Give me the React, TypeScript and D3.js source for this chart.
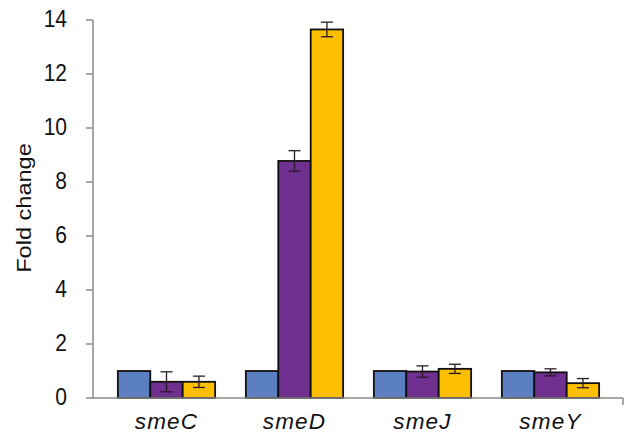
import * as d3 from "d3";

const categories = ["smeC", "smeD", "smeJ", "smeY"];
const seriesKeys = ["control", "treatA", "treatB"];
const controlValues = [1, 1, 1, 1];
const treatAValues = [0.6, 8.78, 0.98, 0.95];
const treatAErrors = [0.37, 0.38, 0.21, 0.13];
const treatBValues = [0.6, 13.65, 1.08, 0.55];
const treatBErrors = [0.21, 0.27, 0.17, 0.17];
const yTicks = [0, 2, 4, 6, 8, 10, 12, 14];

const COLORS: Record<string, string> = {
  control: "#5b7fc1",
  treatA: "#70308f",
  treatB: "#fbbf00",
};

const W = 625;
const H = 435;
const AXIS_X = 93;
const AXIS_RIGHT = 623;
const AXIS_COLOR = "#8a8a8a";
const FONT = "Arial, 'Liberation Sans', sans-serif";

interface Datum {
  category: string;
  key: string;
  value: number;
  error: number;
}

const data: Datum[] = categories.flatMap((category, i) => [
  { category, key: "control", value: controlValues[i], error: 0 },
  { category, key: "treatA", value: treatAValues[i], error: treatAErrors[i] },
  { category, key: "treatB", value: treatBValues[i], error: treatBErrors[i] },
]);

export default function App() {
  const y = d3.scaleLinear().domain([0, 14]).range([398, 20]);
  const x0 = d3
    .scaleBand<string>()
    .domain(categories)
    .range([102.5, 614.5])
    .paddingInner(0.24)
    .paddingOuter(0.12);
  const x1 = d3
    .scaleBand<string>()
    .domain(seriesKeys)
    .range([0, x0.bandwidth()]);

  return (
    <svg
      width={W}
      height={H}
      style={{ position: "absolute", left: 0, top: 0, background: "#fff" }}
      fontFamily={FONT}
    >
      {/* y axis */}
      <line x1={AXIS_X} x2={AXIS_X} y1={y(14)} y2={y(0)} stroke={AXIS_COLOR} strokeWidth={1.5} />
      {yTicks.map((t) => (
        <g key={t} transform={`translate(0,${y(t)})`}>
          <line x1={AXIS_X - 7} x2={AXIS_X} stroke={AXIS_COLOR} strokeWidth={1.5} />
          <text
            transform="translate(67,-1) scale(1,1.15)"
            textAnchor="end"
            dominantBaseline="central"
            fontSize={21}
            fill="#111"
          >
            {t}
          </text>
        </g>
      ))}
      <text
        transform={`translate(31,208) rotate(-90) scale(1.15,1)`}
        textAnchor="middle"
        fontSize={20.5}
        fill="#111"
      >
        Fold change
      </text>

      {/* bars */}
      {data.map((d) => {
        const bx = (x0(d.category) ?? 0) + (x1(d.key) ?? 0);
        return (
          <rect
            key={`${d.category}-${d.key}`}
            x={bx}
            y={y(d.value)}
            width={x1.bandwidth()}
            height={y(0) - y(d.value)}
            fill={COLORS[d.key]}
            stroke="#111"
            strokeWidth={1.8}
          />
        );
      })}

      {/* error bars */}
      {data
        .filter((d) => d.error > 0)
        .map((d) => {
          const cx = (x0(d.category) ?? 0) + (x1(d.key) ?? 0) + x1.bandwidth() / 2;
          const top = y(d.value + d.error);
          const bot = y(d.value - d.error);
          return (
            <g key={`err-${d.category}-${d.key}`} stroke="#2a1a2a" strokeWidth={1.3}>
              <line x1={cx} x2={cx} y1={top} y2={bot} />
              <line x1={cx - 6} x2={cx + 6} y1={top} y2={top} />
              <line x1={cx - 6} x2={cx + 6} y1={bot} y2={bot} />
            </g>
          );
        })}

      {/* x axis */}
      <line x1={AXIS_X} x2={AXIS_RIGHT} y1={y(0)} y2={y(0)} stroke={AXIS_COLOR} strokeWidth={1.5} />
      <line x1={AXIS_RIGHT} x2={AXIS_RIGHT} y1={y(0)} y2={y(0) + 7} stroke={AXIS_COLOR} strokeWidth={1.5} />
      {categories.map((c) => (
        <text
          key={c}
          x={(x0(c) ?? 0) + x0.bandwidth() / 2}
          y={429}
          textAnchor="middle"
          fontSize={22.5}
          fontStyle="italic"
          letterSpacing={1.2}
          fill="#111"
        >
          {c}
        </text>
      ))}
    </svg>
  );
}
